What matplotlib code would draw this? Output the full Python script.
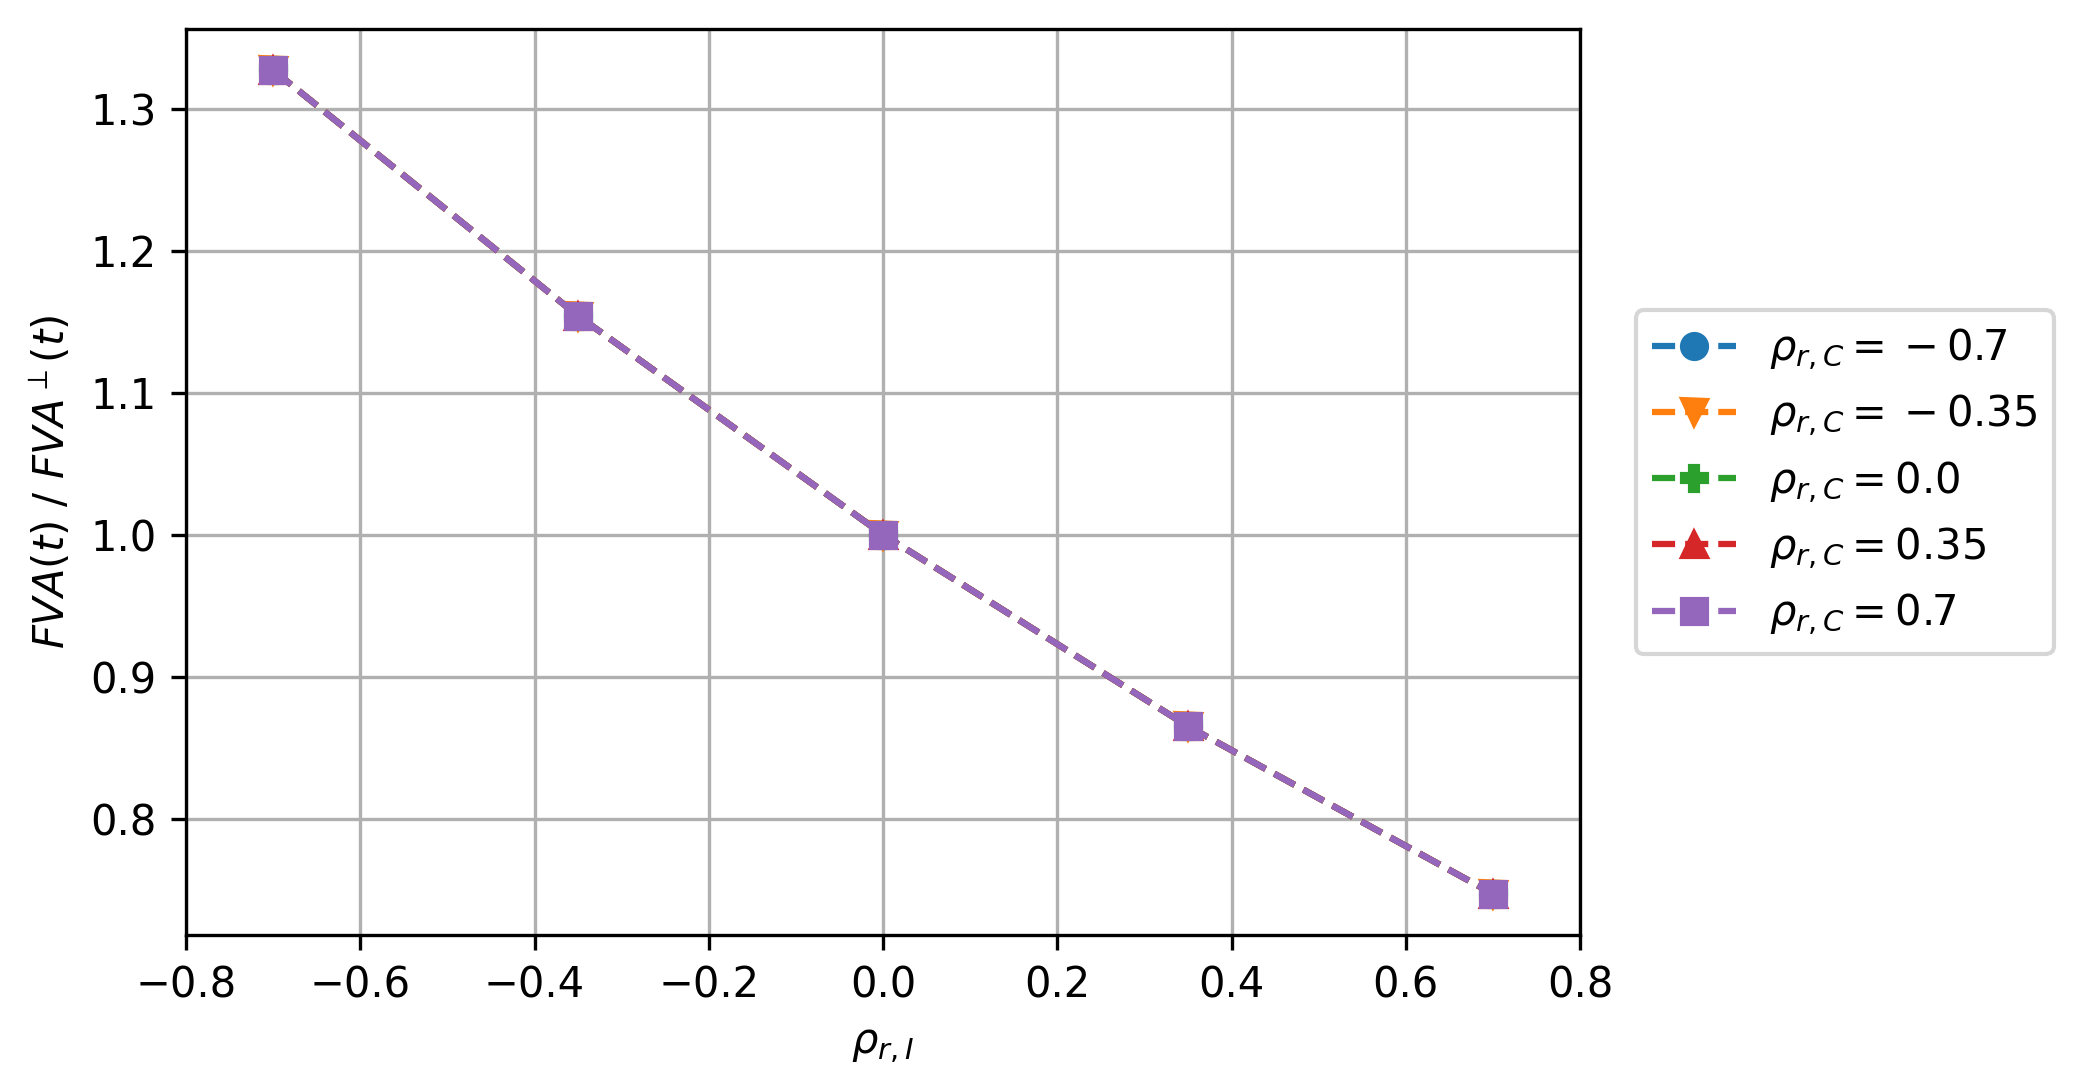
import matplotlib
matplotlib.use("Agg")
import matplotlib.pyplot as plt

rho_rI = [-0.7, -0.35, 0.0, 0.35, 0.7]
rho_rC = [-0.7, -0.35, 0.0, 0.35, 0.7]
ratio_m070 = [1.327, 1.154, 1.0, 0.865, 0.747]
ratio_m035 = [1.327, 1.154, 1.0, 0.865, 0.747]
ratio_000 = [1.327, 1.154, 1.0, 0.865, 0.747]
ratio_035 = [1.327, 1.154, 1.0, 0.865, 0.747]
ratio_070 = [1.327, 1.154, 1.0, 0.865, 0.747]
series = [ratio_m070, ratio_m035, ratio_000, ratio_035, ratio_070]
markers = ["o", "v", "P", "^", "s"]


def rc_label(c):
    # older mathtext rendered the minus as a binary operator: "= − 0.7"
    s = str(c)
    if s.startswith("-"):
        s = "{}-" + s[1:]
    return rf"$\rho_{{r,C}} = {s}$"


fig = plt.figure(figsize=(2085 / 300, 1091 / 300), dpi=300)
ax = fig.add_axes([186 / 2085, 1 - 935 / 1091, (1580 - 186) / 2085, (935 - 29) / 1091])

for c, ys, m in zip(rho_rC, series, markers):
    ax.plot(rho_rI, ys, linestyle="--", marker=m, label=rc_label(c))

ax.set_xlim(-0.8, 0.8)
ax.grid(True)
ax.set_xlabel(r"$\rho_{r,I}$")
ax.set_ylabel(r"$FVA(t)$ / $FVA^{\perp}(t)$")
ax.legend(loc="center left", bbox_to_anchor=(1.025, 0.5))

fig.savefig("out.png", dpi=300)
